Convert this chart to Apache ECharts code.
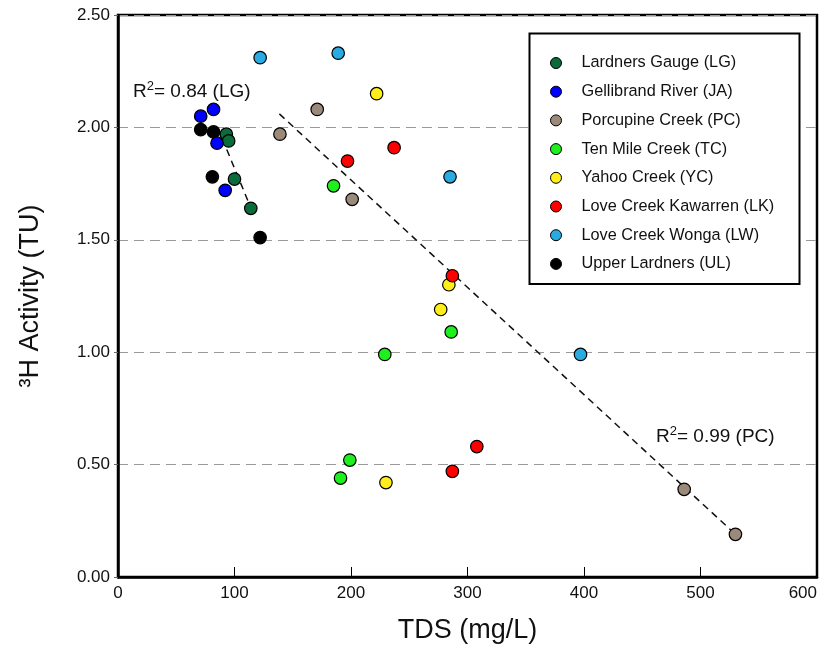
<!DOCTYPE html>
<html>
<head>
<meta charset="utf-8">
<script src="https://cdn.jsdelivr.net/npm/echarts@6/dist/echarts.min.js"></script>
<style>
html,body{margin:0;padding:0;background:#fff;}
#chart{width:825px;height:646px;}
</style>
</head>
<body>
<div id="chart"></div>
<script>
// ---- data (TDS mg/L, 3H TU) ----
const seriesNames = ['Lardners Gauge (LG)','Gellibrand River (JA)','Porcupine Creek (PC)','Ten Mile Creek (TC)','Yahoo Creek (YC)','Love Creek Kawarren (LK)','Love Creek Wonga (LW)','Upper Lardners (UL)'];
const LG = [[93,1.97],[95,1.94],[100,1.77],[114,1.64]];
const JA = [[71,2.05],[82,2.08],[85,1.93],[92,1.72]];
const PC = [[139,1.97],[171,2.08],[201,1.68],[486,0.39],[530,0.19]];
const TC = [[185,1.74],[229,0.99],[286,1.09],[199,0.52],[191,0.44]];
const YC = [[222,2.15],[284,1.30],[277,1.19],[230,0.42]];
const LK = [[237,1.91],[197,1.85],[287,1.34],[287,0.47],[308,0.58]];
const LW = [[122,2.31],[189,2.33],[285,1.78],[397,0.99]];
const UL = [[71,1.99],[82,1.98],[81,1.78],[122,1.51]];
const trendLG = [[85.5,2.00],[114.2,1.64]];
const trendPC = [[138.5,2.06],[530,0.19]];
const xTicks = [0,100,200,300,400,500,600];
const yTicks = [0,0.5,1.0,1.5,2.0,2.5];

const colors = {LG:'#0b6b3b',JA:'#0000ff',PC:'#9b8a79',TC:'#1ef01e',YC:'#ffee1a',LK:'#ff0000',LW:'#29aae1',UL:'#000000'};

const font = 'Liberation Sans, Arial, sans-serif';
function scat(name, data, color){
  return {name:name,type:'scatter',data:data,symbol:'circle',symbolSize:12.5,
    itemStyle:{color:color,borderColor:'#000',borderWidth:1.2,opacity:1},z:5};
}
function trend(data){
  return {type:'line',data:data,symbol:'none',silent:true,z:4,
    lineStyle:{color:'#111',width:1.5,type:[7,5]}};
}

const chart = echarts.init(document.getElementById('chart'),null,{renderer:'canvas'});
chart.setOption({
  animation:false,
  backgroundColor:'#fff',
  grid:{left:118,right:8,top:15,bottom:69,outerBoundsMode:'none',containLabel:false,show:true,borderColor:'#000',borderWidth:2.5,backgroundColor:'transparent'},
  xAxis:{type:'value',min:xTicks[0],max:xTicks[xTicks.length-1],interval:100,
    name:'TDS (mg/L)',nameLocation:'middle',nameGap:40,
    nameTextStyle:{fontFamily:font,fontSize:27,color:'#111'},
    axisLine:{show:true,lineStyle:{color:'#000',width:2.5}},
    axisTick:{show:true,inside:true,length:10,lineStyle:{color:'#000',width:1}},
    axisLabel:{fontFamily:font,fontSize:17,color:'#111',margin:8,alignMaxLabel:'right'},
    splitLine:{show:false}},
  yAxis:{type:'value',min:yTicks[0],max:yTicks[yTicks.length-1],interval:0.5,
    name:'\u00B3H Activity (TU)',nameLocation:'middle',nameGap:74,
    nameTextStyle:{fontFamily:font,fontSize:27,color:'#111'},
    axisLine:{show:true,lineStyle:{color:'#000',width:2.5}},
    axisTick:{show:true,inside:false,length:4,lineStyle:{color:'#666',width:1}},
    axisLabel:{fontFamily:font,fontSize:17,color:'#111',margin:8,formatter:v=>v.toFixed(2)},
    splitLine:{show:true,lineStyle:{color:'#999',width:1.2,type:[10,6]}}},
  legend:{data:seriesNames,orient:'vertical',left:550,top:55,padding:0,z:20,
    itemWidth:11,itemHeight:11,itemGap:12.7,icon:'circle',
    textStyle:{fontFamily:font,fontSize:16.3,color:'#111',lineHeight:16,padding:[0,0,0,15]},
    itemStyle:{borderColor:'#000',borderWidth:1}},
  graphic:[
    {type:'rect',z:15,shape:{x:529.5,y:33.5,width:270,height:250.5},style:{fill:'#fff',stroke:'#000',lineWidth:2},silent:true},
    {type:'text',left:133,top:80,z:20,style:{text:'R{s|2}= 0.84 (LG)',font:'19px '+font,fill:'#111',
      rich:{s:{fontSize:13,fontFamily:font,verticalAlign:'top',padding:[0,0,10,0]}}}},
    {type:'text',left:656,top:425,z:20,style:{text:'R{s|2}= 0.99 (PC)',font:'19px '+font,fill:'#111',
      rich:{s:{fontSize:13,fontFamily:font,verticalAlign:'top',padding:[0,0,10,0]}}}}
  ],
  series:[
    trend(trendLG), trend(trendPC),
    scat(seriesNames[7],UL,colors.UL),
    scat(seriesNames[0],LG,colors.LG),
    scat(seriesNames[1],JA,colors.JA),
    scat(seriesNames[2],PC,colors.PC),
    scat(seriesNames[3],TC,colors.TC),
    scat(seriesNames[4],YC,colors.YC),
    scat(seriesNames[5],LK,colors.LK),
    scat(seriesNames[6],LW,colors.LW)
  ]
});
</script>
</body>
</html>
